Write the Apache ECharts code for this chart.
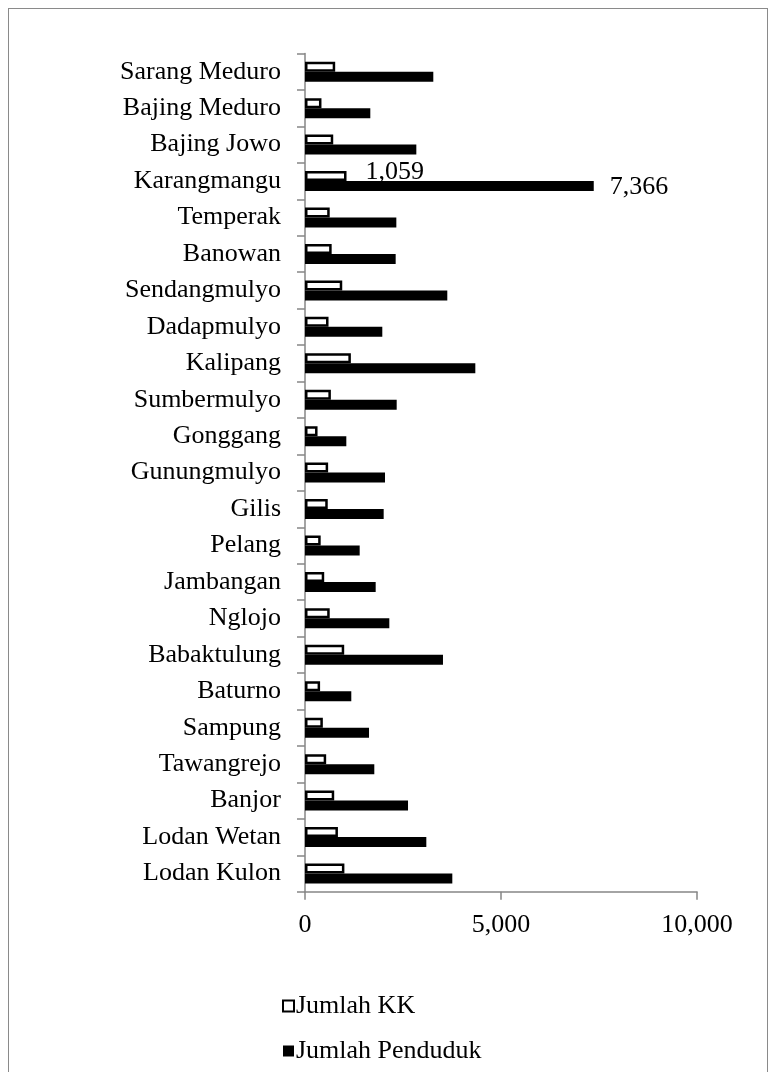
<!DOCTYPE html>
<html>
<head>
<meta charset="utf-8">
<script src="https://cdn.jsdelivr.net/npm/echarts@6/dist/echarts.min.js"></script>
<style>
  html, body { margin: 0; padding: 0; background: #fff; }
  #frame { position: absolute; left: 8px; top: 8px; width: 760px; height: 1070px;
           border: 1.5px solid #8a8a8a; box-sizing: border-box; }
  #chart { position: absolute; left: 0; top: 0; width: 771px; height: 1072px; }
</style>
</head>
<body>
<div id="frame"></div>
<div id="chart"></div>
<script>
// Villages, listed from the bottom of the axis to the top
const villages = ['Lodan Kulon', 'Lodan Wetan', 'Banjor', 'Tawangrejo', 'Sampung', 'Baturno',
  'Babaktulung', 'Nglojo', 'Jambangan', 'Pelang', 'Gilis', 'Gunungmulyo', 'Gonggang',
  'Sumbermulyo', 'Kalipang', 'Dadapmulyo', 'Sendangmulyo', 'Banowan', 'Temperak',
  'Karangmangu', 'Bajing Jowo', 'Bajing Meduro', 'Sarang Meduro'];

// Number of households (Jumlah KK)
const jumlahKK = [1005, 840, 745, 540, 455, 385, 1000, 630, 490, 400, 580, 590, 320,
  660, 1170, 600, 950, 680, 630, 1059, 720, 420, 770];

// Number of residents (Jumlah Penduduk)
const jumlahPenduduk = [3758, 3095, 2628, 1768, 1633, 1181, 3520, 2151, 1803, 1395, 2007,
  2041, 1054, 2339, 4345, 1972, 3630, 2313, 2330, 7366, 2840, 1666, 3273];

const seriesNames = ['Jumlah KK', 'Jumlah Penduduk'];
const labelledVillage = 'Karangmangu';

const FONT = '"Liberation Serif", "Times New Roman", serif';
const fmt = v => Number(v).toLocaleString('en-US');

function withLabel(values, labelOpts) {
  return values.map((v, i) => villages[i] === labelledVillage
    ? { value: v, label: Object.assign({ show: true }, labelOpts) }
    : v);
}

const chart = echarts.init(document.getElementById('chart'), null, { renderer: 'canvas' });
chart.setOption({
  animation: false,
  textStyle: { fontFamily: FONT },
  grid: { left: 305, right: 74, top: 53.5, bottom: 180.3, containLabel: false },
  xAxis: {
    type: 'value', min: 0, max: 10000, interval: 5000,
    axisLine: { show: true, lineStyle: { color: '#868686', width: 1.5 } },
    axisTick: { show: true, length: 8, lineStyle: { color: '#868686', width: 1.5 } },
    splitLine: { show: false },
    axisLabel: { color: '#000', fontSize: 26, fontFamily: FONT, margin: 20, formatter: fmt }
  },
  yAxis: {
    type: 'category', data: villages,
    axisLine: { show: true, lineStyle: { color: '#868686', width: 1.5 } },
    axisTick: { show: true, length: 8, lineStyle: { color: '#868686', width: 1.5 } },
    axisLabel: { color: '#000', fontSize: 26, fontFamily: FONT, margin: 24 }
  },
  legend: {
    orient: 'vertical', left: 277, top: 988, itemGap: 19,
    itemWidth: 11, itemHeight: 11, icon: 'rect',
    textStyle: { color: '#000', fontSize: 26, fontFamily: FONT, padding: [0, 0, 0, -3] },
    data: seriesNames
  },
  series: [
    {
      name: seriesNames[0], type: 'bar', barWidth: 10, barGap: '0%',
      itemStyle: { color: '#fff', borderColor: '#000', borderWidth: 2.5 },
      label: { show: false },
      data: withLabel(jumlahKK, {
        position: 'right', distance: 19, offset: [0, -4], formatter: p => fmt(p.value),
        color: '#000', fontSize: 26, fontFamily: FONT
      })
    },
    {
      name: seriesNames[1], type: 'bar', barWidth: 10, barGap: '0%',
      itemStyle: { color: '#000' },
      label: { show: false },
      data: withLabel(jumlahPenduduk, {
        position: 'right', distance: 16, offset: [0, 1], formatter: p => fmt(p.value),
        color: '#000', fontSize: 26, fontFamily: FONT
      })
    }
  ]
});
</script>
</body>
</html>
